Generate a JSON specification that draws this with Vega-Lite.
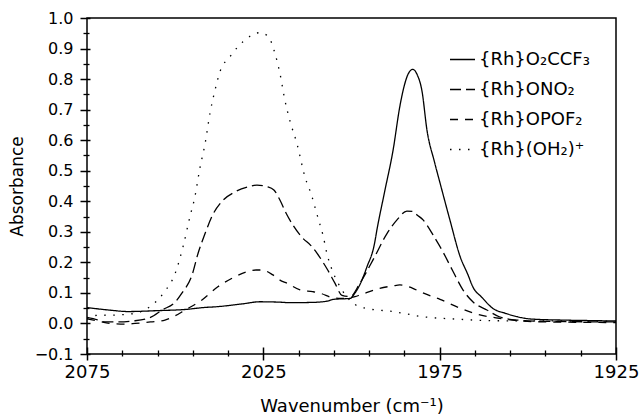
{
  "$schema": "https://vega.github.io/schema/vega-lite/v6.json",
  "width": 529,
  "height": 336,
  "autosize": "none",
  "padding": {"left": 87, "top": 18, "right": 27, "bottom": 63},
  "background": "white",
  "config": {"view": {"stroke": "black", "strokeWidth": 1.5}},
  "data": {"values": [
    {"series": "{Rh}O₂CCF₃", "wavenumber": 2075, "absorbance": 0.052},
    {"series": "{Rh}O₂CCF₃", "wavenumber": 2068, "absorbance": 0.043},
    {"series": "{Rh}O₂CCF₃", "wavenumber": 2063.4, "absorbance": 0.039},
    {"series": "{Rh}O₂CCF₃", "wavenumber": 2055, "absorbance": 0.042},
    {"series": "{Rh}O₂CCF₃", "wavenumber": 2047, "absorbance": 0.046},
    {"series": "{Rh}O₂CCF₃", "wavenumber": 2042, "absorbance": 0.052},
    {"series": "{Rh}O₂CCF₃", "wavenumber": 2038, "absorbance": 0.055},
    {"series": "{Rh}O₂CCF₃", "wavenumber": 2031, "absorbance": 0.064},
    {"series": "{Rh}O₂CCF₃", "wavenumber": 2026, "absorbance": 0.071},
    {"series": "{Rh}O₂CCF₃", "wavenumber": 2021, "absorbance": 0.070},
    {"series": "{Rh}O₂CCF₃", "wavenumber": 2017, "absorbance": 0.068},
    {"series": "{Rh}O₂CCF₃", "wavenumber": 2011, "absorbance": 0.069},
    {"series": "{Rh}O₂CCF₃", "wavenumber": 2007, "absorbance": 0.073},
    {"series": "{Rh}O₂CCF₃", "wavenumber": 2005, "absorbance": 0.079},
    {"series": "{Rh}O₂CCF₃", "wavenumber": 2000.4, "absorbance": 0.082},
    {"series": "{Rh}O₂CCF₃", "wavenumber": 1999, "absorbance": 0.10},
    {"series": "{Rh}O₂CCF₃", "wavenumber": 1997.5, "absorbance": 0.13},
    {"series": "{Rh}O₂CCF₃", "wavenumber": 1995.6, "absorbance": 0.186},
    {"series": "{Rh}O₂CCF₃", "wavenumber": 1993.5, "absorbance": 0.26},
    {"series": "{Rh}O₂CCF₃", "wavenumber": 1992.8, "absorbance": 0.306},
    {"series": "{Rh}O₂CCF₃", "wavenumber": 1990.5, "absorbance": 0.437},
    {"series": "{Rh}O₂CCF₃", "wavenumber": 1988.2, "absorbance": 0.568},
    {"series": "{Rh}O₂CCF₃", "wavenumber": 1986.3, "absorbance": 0.71},
    {"series": "{Rh}O₂CCF₃", "wavenumber": 1985, "absorbance": 0.78},
    {"series": "{Rh}O₂CCF₃", "wavenumber": 1984, "absorbance": 0.815},
    {"series": "{Rh}O₂CCF₃", "wavenumber": 1982.6, "absorbance": 0.832},
    {"series": "{Rh}O₂CCF₃", "wavenumber": 1981.4, "absorbance": 0.815},
    {"series": "{Rh}O₂CCF₃", "wavenumber": 1980, "absorbance": 0.76},
    {"series": "{Rh}O₂CCF₃", "wavenumber": 1978.6, "absorbance": 0.633},
    {"series": "{Rh}O₂CCF₃", "wavenumber": 1976.5, "absorbance": 0.53},
    {"series": "{Rh}O₂CCF₃", "wavenumber": 1974.9, "absorbance": 0.46},
    {"series": "{Rh}O₂CCF₃", "wavenumber": 1972.1, "absorbance": 0.339},
    {"series": "{Rh}O₂CCF₃", "wavenumber": 1969.2, "absorbance": 0.219},
    {"series": "{Rh}O₂CCF₃", "wavenumber": 1967, "absorbance": 0.16},
    {"series": "{Rh}O₂CCF₃", "wavenumber": 1965.6, "absorbance": 0.12},
    {"series": "{Rh}O₂CCF₃", "wavenumber": 1963, "absorbance": 0.085},
    {"series": "{Rh}O₂CCF₃", "wavenumber": 1960, "absorbance": 0.05},
    {"series": "{Rh}O₂CCF₃", "wavenumber": 1956, "absorbance": 0.032},
    {"series": "{Rh}O₂CCF₃", "wavenumber": 1953, "absorbance": 0.022},
    {"series": "{Rh}O₂CCF₃", "wavenumber": 1948.5, "absorbance": 0.014},
    {"series": "{Rh}O₂CCF₃", "wavenumber": 1940, "absorbance": 0.011},
    {"series": "{Rh}O₂CCF₃", "wavenumber": 1930, "absorbance": 0.009},
    {"series": "{Rh}O₂CCF₃", "wavenumber": 1925, "absorbance": 0.008},

    {"series": "{Rh}ONO₂", "wavenumber": 2075, "absorbance": 0.02},
    {"series": "{Rh}ONO₂", "wavenumber": 2072, "absorbance": 0.012},
    {"series": "{Rh}ONO₂", "wavenumber": 2069.9, "absorbance": 0.005},
    {"series": "{Rh}ONO₂", "wavenumber": 2066, "absorbance": 0.005},
    {"series": "{Rh}ONO₂", "wavenumber": 2062, "absorbance": 0.008},
    {"series": "{Rh}ONO₂", "wavenumber": 2057, "absorbance": 0.02},
    {"series": "{Rh}ONO₂", "wavenumber": 2053.7, "absorbance": 0.044},
    {"series": "{Rh}ONO₂", "wavenumber": 2050, "absorbance": 0.07},
    {"series": "{Rh}ONO₂", "wavenumber": 2048.1, "absorbance": 0.099},
    {"series": "{Rh}ONO₂", "wavenumber": 2045.2, "absorbance": 0.159},
    {"series": "{Rh}ONO₂", "wavenumber": 2043.5, "absorbance": 0.23},
    {"series": "{Rh}ONO₂", "wavenumber": 2041.5, "absorbance": 0.295},
    {"series": "{Rh}ONO₂", "wavenumber": 2039.6, "absorbance": 0.35},
    {"series": "{Rh}ONO₂", "wavenumber": 2036.7, "absorbance": 0.40},
    {"series": "{Rh}ONO₂", "wavenumber": 2033, "absorbance": 0.431},
    {"series": "{Rh}ONO₂", "wavenumber": 2029, "absorbance": 0.448},
    {"series": "{Rh}ONO₂", "wavenumber": 2026.8, "absorbance": 0.453},
    {"series": "{Rh}ONO₂", "wavenumber": 2024, "absorbance": 0.448},
    {"series": "{Rh}ONO₂", "wavenumber": 2022, "absorbance": 0.437},
    {"series": "{Rh}ONO₂", "wavenumber": 2020.3, "absorbance": 0.404},
    {"series": "{Rh}ONO₂", "wavenumber": 2018.5, "absorbance": 0.36},
    {"series": "{Rh}ONO₂", "wavenumber": 2016.6, "absorbance": 0.322},
    {"series": "{Rh}ONO₂", "wavenumber": 2013.8, "absorbance": 0.279},
    {"series": "{Rh}ONO₂", "wavenumber": 2011.5, "absorbance": 0.255},
    {"series": "{Rh}ONO₂", "wavenumber": 2009.8, "absorbance": 0.23},
    {"series": "{Rh}ONO₂", "wavenumber": 2007, "absorbance": 0.18},
    {"series": "{Rh}ONO₂", "wavenumber": 2004.7, "absorbance": 0.132},
    {"series": "{Rh}ONO₂", "wavenumber": 2002.7, "absorbance": 0.092},
    {"series": "{Rh}ONO₂", "wavenumber": 2000.4, "absorbance": 0.088},
    {"series": "{Rh}ONO₂", "wavenumber": 1997.6, "absorbance": 0.132},
    {"series": "{Rh}ONO₂", "wavenumber": 1993.9, "absorbance": 0.208},
    {"series": "{Rh}ONO₂", "wavenumber": 1989.9, "absorbance": 0.295},
    {"series": "{Rh}ONO₂", "wavenumber": 1987.1, "absorbance": 0.339},
    {"series": "{Rh}ONO₂", "wavenumber": 1984.3, "absorbance": 0.368},
    {"series": "{Rh}ONO₂", "wavenumber": 1982.6, "absorbance": 0.367},
    {"series": "{Rh}ONO₂", "wavenumber": 1981.4, "absorbance": 0.355},
    {"series": "{Rh}ONO₂", "wavenumber": 1979.7, "absorbance": 0.339},
    {"series": "{Rh}ONO₂", "wavenumber": 1978.6, "absorbance": 0.322},
    {"series": "{Rh}ONO₂", "wavenumber": 1976.9, "absorbance": 0.29},
    {"series": "{Rh}ONO₂", "wavenumber": 1974.1, "absorbance": 0.235},
    {"series": "{Rh}ONO₂", "wavenumber": 1971.2, "absorbance": 0.17},
    {"series": "{Rh}ONO₂", "wavenumber": 1968.4, "absorbance": 0.11},
    {"series": "{Rh}ONO₂", "wavenumber": 1965.6, "absorbance": 0.071},
    {"series": "{Rh}ONO₂", "wavenumber": 1961.6, "absorbance": 0.044},
    {"series": "{Rh}ONO₂", "wavenumber": 1958.1, "absorbance": 0.022},
    {"series": "{Rh}ONO₂", "wavenumber": 1953.1, "absorbance": 0.011},
    {"series": "{Rh}ONO₂", "wavenumber": 1945, "absorbance": 0.007},
    {"series": "{Rh}ONO₂", "wavenumber": 1925, "absorbance": 0.005},

    {"series": "{Rh}OPOF₂", "wavenumber": 2075, "absorbance": 0.015},
    {"series": "{Rh}OPOF₂", "wavenumber": 2072, "absorbance": 0.008},
    {"series": "{Rh}OPOF₂", "wavenumber": 2068.5, "absorbance": 0.0},
    {"series": "{Rh}OPOF₂", "wavenumber": 2064, "absorbance": -0.002},
    {"series": "{Rh}OPOF₂", "wavenumber": 2061.4, "absorbance": 0.0},
    {"series": "{Rh}OPOF₂", "wavenumber": 2057, "absorbance": 0.005},
    {"series": "{Rh}OPOF₂", "wavenumber": 2052.9, "absorbance": 0.011},
    {"series": "{Rh}OPOF₂", "wavenumber": 2050, "absorbance": 0.025},
    {"series": "{Rh}OPOF₂", "wavenumber": 2047.2, "absorbance": 0.044},
    {"series": "{Rh}OPOF₂", "wavenumber": 2042.4, "absorbance": 0.077},
    {"series": "{Rh}OPOF₂", "wavenumber": 2037.9, "absorbance": 0.12},
    {"series": "{Rh}OPOF₂", "wavenumber": 2033, "absorbance": 0.153},
    {"series": "{Rh}OPOF₂", "wavenumber": 2030, "absorbance": 0.168},
    {"series": "{Rh}OPOF₂", "wavenumber": 2027, "absorbance": 0.175},
    {"series": "{Rh}OPOF₂", "wavenumber": 2025.4, "absorbance": 0.175},
    {"series": "{Rh}OPOF₂", "wavenumber": 2022.3, "absorbance": 0.159},
    {"series": "{Rh}OPOF₂", "wavenumber": 2020.3, "absorbance": 0.142},
    {"series": "{Rh}OPOF₂", "wavenumber": 2018.3, "absorbance": 0.132},
    {"series": "{Rh}OPOF₂", "wavenumber": 2014.6, "absorbance": 0.11},
    {"series": "{Rh}OPOF₂", "wavenumber": 2011, "absorbance": 0.104},
    {"series": "{Rh}OPOF₂", "wavenumber": 2008.9, "absorbance": 0.099},
    {"series": "{Rh}OPOF₂", "wavenumber": 2005.2, "absorbance": 0.084},
    {"series": "{Rh}OPOF₂", "wavenumber": 2003, "absorbance": 0.082},
    {"series": "{Rh}OPOF₂", "wavenumber": 1999, "absorbance": 0.088},
    {"series": "{Rh}OPOF₂", "wavenumber": 1997.6, "absorbance": 0.093},
    {"series": "{Rh}OPOF₂", "wavenumber": 1992, "absorbance": 0.115},
    {"series": "{Rh}OPOF₂", "wavenumber": 1988.2, "absorbance": 0.123},
    {"series": "{Rh}OPOF₂", "wavenumber": 1986.3, "absorbance": 0.126},
    {"series": "{Rh}OPOF₂", "wavenumber": 1982.6, "absorbance": 0.115},
    {"series": "{Rh}OPOF₂", "wavenumber": 1980.6, "absorbance": 0.104},
    {"series": "{Rh}OPOF₂", "wavenumber": 1974.9, "absorbance": 0.079},
    {"series": "{Rh}OPOF₂", "wavenumber": 1969.2, "absorbance": 0.05},
    {"series": "{Rh}OPOF₂", "wavenumber": 1963.6, "absorbance": 0.028},
    {"series": "{Rh}OPOF₂", "wavenumber": 1958.1, "absorbance": 0.017},
    {"series": "{Rh}OPOF₂", "wavenumber": 1948.5, "absorbance": 0.006},
    {"series": "{Rh}OPOF₂", "wavenumber": 1925, "absorbance": 0.003},

    {"series": "{Rh}(OH₂)⁺", "wavenumber": 2075, "absorbance": 0.015},
    {"series": "{Rh}(OH₂)⁺", "wavenumber": 2072.7, "absorbance": 0.026},
    {"series": "{Rh}(OH₂)⁺", "wavenumber": 2066.2, "absorbance": 0.028},
    {"series": "{Rh}(OH₂)⁺", "wavenumber": 2061.4, "absorbance": 0.033},
    {"series": "{Rh}(OH₂)⁺", "wavenumber": 2056.6, "absorbance": 0.06},
    {"series": "{Rh}(OH₂)⁺", "wavenumber": 2053, "absorbance": 0.104},
    {"series": "{Rh}(OH₂)⁺", "wavenumber": 2050, "absorbance": 0.164},
    {"series": "{Rh}(OH₂)⁺", "wavenumber": 2047.8, "absorbance": 0.25},
    {"series": "{Rh}(OH₂)⁺", "wavenumber": 2045.8, "absorbance": 0.35},
    {"series": "{Rh}(OH₂)⁺", "wavenumber": 2044.4, "absorbance": 0.415},
    {"series": "{Rh}(OH₂)⁺", "wavenumber": 2043, "absorbance": 0.508},
    {"series": "{Rh}(OH₂)⁺", "wavenumber": 2041.5, "absorbance": 0.59},
    {"series": "{Rh}(OH₂)⁺", "wavenumber": 2040.1, "absorbance": 0.69},
    {"series": "{Rh}(OH₂)⁺", "wavenumber": 2038.7, "absorbance": 0.764},
    {"series": "{Rh}(OH₂)⁺", "wavenumber": 2037.3, "absorbance": 0.824},
    {"series": "{Rh}(OH₂)⁺", "wavenumber": 2034.5, "absorbance": 0.873},
    {"series": "{Rh}(OH₂)⁺", "wavenumber": 2030.8, "absorbance": 0.922},
    {"series": "{Rh}(OH₂)⁺", "wavenumber": 2026, "absorbance": 0.952},
    {"series": "{Rh}(OH₂)⁺", "wavenumber": 2023.7, "absorbance": 0.941},
    {"series": "{Rh}(OH₂)⁺", "wavenumber": 2021.7, "absorbance": 0.884},
    {"series": "{Rh}(OH₂)⁺", "wavenumber": 2020.3, "absorbance": 0.819},
    {"series": "{Rh}(OH₂)⁺", "wavenumber": 2018.9, "absorbance": 0.732},
    {"series": "{Rh}(OH₂)⁺", "wavenumber": 2017.4, "absorbance": 0.661},
    {"series": "{Rh}(OH₂)⁺", "wavenumber": 2015.5, "absorbance": 0.59},
    {"series": "{Rh}(OH₂)⁺", "wavenumber": 2013.2, "absorbance": 0.48},
    {"series": "{Rh}(OH₂)⁺", "wavenumber": 2011.2, "absorbance": 0.415},
    {"series": "{Rh}(OH₂)⁺", "wavenumber": 2010.4, "absorbance": 0.382},
    {"series": "{Rh}(OH₂)⁺", "wavenumber": 2008.9, "absorbance": 0.322},
    {"series": "{Rh}(OH₂)⁺", "wavenumber": 2008.1, "absorbance": 0.29},
    {"series": "{Rh}(OH₂)⁺", "wavenumber": 2007, "absorbance": 0.23},
    {"series": "{Rh}(OH₂)⁺", "wavenumber": 2005.5, "absorbance": 0.175},
    {"series": "{Rh}(OH₂)⁺", "wavenumber": 2003.8, "absorbance": 0.132},
    {"series": "{Rh}(OH₂)⁺", "wavenumber": 2002.4, "absorbance": 0.104},
    {"series": "{Rh}(OH₂)⁺", "wavenumber": 1999, "absorbance": 0.062},
    {"series": "{Rh}(OH₂)⁺", "wavenumber": 1996.2, "absorbance": 0.05},
    {"series": "{Rh}(OH₂)⁺", "wavenumber": 1988.2, "absorbance": 0.039},
    {"series": "{Rh}(OH₂)⁺", "wavenumber": 1979.7, "absorbance": 0.022},
    {"series": "{Rh}(OH₂)⁺", "wavenumber": 1970, "absorbance": 0.014},
    {"series": "{Rh}(OH₂)⁺", "wavenumber": 1960, "absorbance": 0.009},
    {"series": "{Rh}(OH₂)⁺", "wavenumber": 1940, "absorbance": 0.008},
    {"series": "{Rh}(OH₂)⁺", "wavenumber": 1925, "absorbance": 0.007}
  ]},
  "resolve": {"axis": {"x": "independent", "y": "independent"}},
  "layer": [
    {
      "mark": {"type": "line", "color": "black", "strokeWidth": 1.3, "clip": true, "interpolate": "monotone"},
      "encoding": {
        "x": {"field": "wavenumber", "type": "quantitative",
          "scale": {"domain": [1925, 2075], "reverse": true, "nice": false, "zero": false},
          "axis": {"orient": "bottom", "values": [2075, 2025, 1975, 1925], "format": "d",
            "offset": -7, "tickSize": 13, "tickWidth": 1.5, "tickColor": "black", "domain": false, "grid": false,
            "labelFont": "DejaVu Sans", "labelFontSize": 18, "labelColor": "black", "labelPadding": 3,
            "labelFlush": false, "labelOverlap": false, "labelBound": false,
            "title": "Wavenumber (cm⁻¹)", "titleFont": "DejaVu Sans", "titleFontSize": 18,
            "titleFontWeight": "normal", "titleColor": "black", "titlePadding": 16}},
        "y": {"field": "absorbance", "type": "quantitative",
          "scale": {"domain": [-0.1, 1.0], "nice": false, "zero": false},
          "axis": {"orient": "left", "values": [-0.1, 0, 0.1, 0.2, 0.3, 0.4, 0.5, 0.6, 0.7, 0.8, 0.9, 1.0], "format": ".1f",
            "offset": -3, "tickSize": 10, "tickWidth": 1.5, "tickColor": "black", "domain": false, "grid": false,
            "labelFont": "DejaVu Sans", "labelFontSize": 16, "labelColor": "black", "labelPadding": 7,
            "labelOverlap": false, "labelBound": false,
            "title": "Absorbance", "titleFont": "DejaVu Sans", "titleFontSize": 17,
            "titleFontWeight": "normal", "titleColor": "black", "titlePadding": 8}},
        "strokeDash": {"field": "series", "type": "nominal",
          "scale": {"domain": ["{Rh}O₂CCF₃", "{Rh}ONO₂", "{Rh}OPOF₂", "{Rh}(OH₂)⁺"],
            "range": [[1, 0], [11, 5], [8, 7], [1.5, 7.5]]},
          "legend": {"orient": "none", "legendX": 362, "legendY": 28, "title": null,
            "symbolType": "stroke", "symbolSize": 625, "symbolStrokeWidth": 1.3, "symbolStrokeColor": "black",
            "labelFont": "DejaVu Sans", "labelFontSize": 18, "labelColor": "black", "labelOffset": 3,
            "rowPadding": 7, "padding": 0, "labelLimit": 300}}
      }
    },
    {
      "mark": {"type": "point", "opacity": 0, "size": 0},
      "encoding": {
        "x": {"field": "wavenumber", "type": "quantitative",
          "axis": {"orient": "bottom", "values": [2065, 2055, 2045, 2035, 2015, 2005, 1995, 1985, 1965, 1955, 1945, 1935],
            "offset": -4, "tickSize": 6, "tickWidth": 1.3, "tickColor": "black", "labels": false, "domain": false, "grid": false, "title": null}},
        "y": {"field": "absorbance", "type": "quantitative",
          "axis": {"orient": "left", "values": [-0.05, 0.05, 0.15, 0.25, 0.35, 0.45, 0.55, 0.65, 0.75, 0.85, 0.95],
            "offset": -2, "tickSize": 6, "tickWidth": 1.3, "tickColor": "black", "labels": false, "domain": false, "grid": false, "title": null}}
      }
    }
  ]
}
